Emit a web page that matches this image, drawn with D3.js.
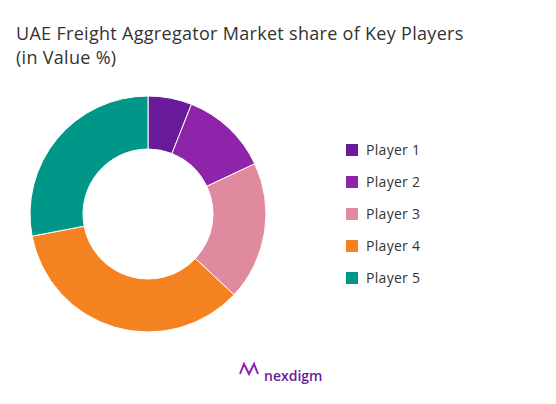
<!DOCTYPE html>
<html><head><meta charset="utf-8">
<script src="https://cdn.jsdelivr.net/npm/d3@7"></script>
<style>body{margin:0;background:#fff}</style></head>
<body><script>
const categories=["Player 1","Player 2","Player 3","Player 4","Player 5"];
const values=[6,12,19,35,28];
const colors=["#6a1b9a","#8e24aa","#e08aa0","#f58220","#009688"];
const W=556,H=404;
const svg=d3.select("body").append("svg").attr("width",W).attr("height",H);
const tf="'Open Sans', sans-serif";
svg.append("text").attr("x",16).attr("y",40).attr("font-family",tf).attr("font-size",18).attr("letter-spacing",0.3).attr("fill","#333").text("UAE Freight Aggregator Market share of Key Players");
svg.append("text").attr("x",16).attr("y",64).attr("font-family",tf).attr("font-size",18).attr("letter-spacing",0.3).attr("fill","#333").text("(in Value %)");
const pie=d3.pie().sort(null)(values);
const arc=d3.arc().innerRadius(65).outerRadius(118);
const g=svg.append("g").attr("transform","translate(148,214)");
g.selectAll("path").data(pie).join("path").attr("d",arc).attr("fill",(d,i)=>colors[i]).attr("stroke","#fff").attr("stroke-width",1);
const y=d3.scalePoint().domain(categories).range([150,278]);
const lg=svg.append("g");
categories.forEach((c,i)=>{
  lg.append("rect").attr("x",346).attr("y",y(c)-6).attr("width",12).attr("height",12).attr("fill",colors[i]);
  lg.append("text").attr("x",366).attr("y",y(c)+5).attr("font-family",tf).attr("font-size",14).attr("letter-spacing",0.3).attr("fill","#333").text(c);
});
const lgG=svg.append("g").attr("transform","translate(240,366)");
lgG.append("path").attr("d","M0,8 L4,-2 L9,8 L14,-2 L18,8").attr("fill","none").attr("stroke","#8e24aa").attr("stroke-width",2);
svg.append("text").attr("x",264).attr("y",381).attr("font-family",tf).attr("font-size",14).attr("font-weight",600).attr("fill","#6a1b9a").text("nexdigm");
</script></body></html>
